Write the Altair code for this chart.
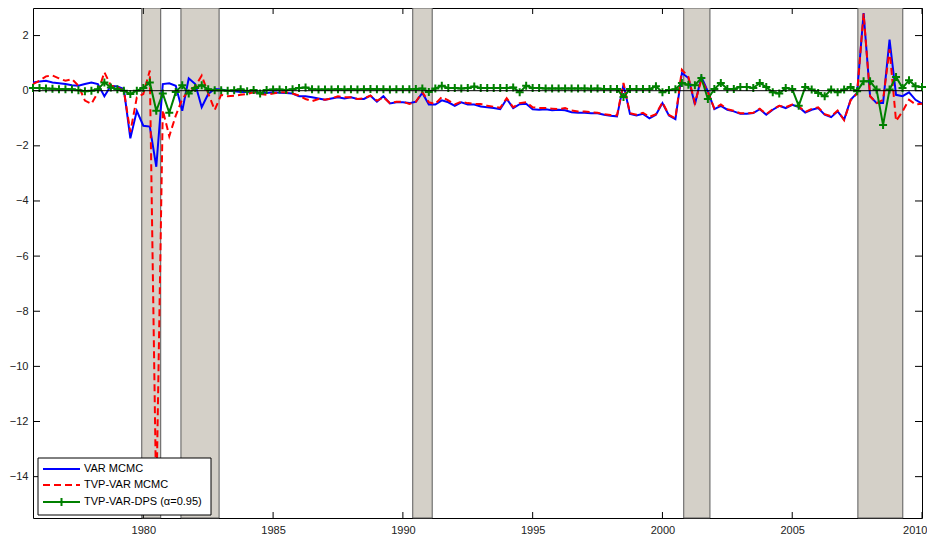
import altair as alt
import pandas as pd

FONT = "Arial, Liberation Sans, sans-serif"

# quarterly observations, first one at 1975.75
START = 1975.75
STEP = 0.25

var_mcmc = [
    0.30, 0.33, 0.36, 0.30, 0.27, 0.24, 0.20, 0.18, 0.24, 0.30,
    0.24, -0.20, 0.18, 0.15, 0.06, -1.73, -0.73, -1.27, -1.30, -2.76,
    0.24, 0.27, 0.18, -0.73, 0.45, 0.24, -0.60, -0.12, 0.06, 0.04,
    0.00, -0.02, -0.05, -0.05, -0.06, -0.07, -0.08, -0.06, -0.07, -0.08,
    -0.10, -0.20, -0.20, -0.24, -0.28, -0.33, -0.28, -0.24, -0.28, -0.24,
    -0.30, -0.30, -0.18, -0.40, -0.20, -0.46, -0.42, -0.42, -0.45, -0.40,
    -0.08, -0.50, -0.50, -0.35, -0.42, -0.55, -0.42, -0.50, -0.50, -0.57,
    -0.60, -0.63, -0.67, -0.30, -0.63, -0.49, -0.47, -0.67, -0.69, -0.67,
    -0.71, -0.69, -0.71, -0.78, -0.80, -0.80, -0.82, -0.82, -0.87, -0.91,
    -0.93, 0.22, -0.84, -0.90, -0.84, -1.00, -0.87, -0.45, -0.90, -1.03,
    0.64, 0.46, -0.50, 0.50, -0.02, -0.67, -0.55, -0.69, -0.75, -0.84,
    -0.84, -0.81, -0.67, -0.87, -0.69, -0.55, -0.63, -0.51, -0.59, -0.79,
    -0.69, -0.63, -0.87, -0.96, -0.75, -1.05, -0.33, -0.08, 2.82, -0.20,
    -0.45, -0.45, 1.85, -0.15, -0.20, -0.06, -0.33, -0.47,
]

tvp_var_mcmc = [
    0.24, 0.36, 0.52, 0.55, 0.45, 0.36, 0.42, 0.18, -0.36, -0.48,
    -0.06, 0.67, 0.18, 0.12, 0.00, -1.50, -0.24, -0.12, 0.73, -15.0,
    -0.70, -1.65, -0.90, -0.30, 0.00, 0.15, 0.55, -0.10, -0.70, -0.15,
    -0.20, -0.18, -0.15, -0.12, -0.06, -0.12, -0.15, -0.10, -0.06, -0.06,
    -0.10, -0.18, -0.30, -0.38, -0.30, -0.33, -0.28, -0.20, -0.24, -0.24,
    -0.30, -0.28, -0.18, -0.36, -0.24, -0.45, -0.40, -0.40, -0.48, -0.40,
    -0.05, -0.42, -0.48, -0.23, -0.35, -0.50, -0.40, -0.45, -0.48, -0.48,
    -0.55, -0.58, -0.62, -0.27, -0.60, -0.45, -0.42, -0.60, -0.63, -0.63,
    -0.65, -0.67, -0.63, -0.72, -0.75, -0.75, -0.78, -0.80, -0.85, -0.88,
    -0.90, 0.28, -0.82, -0.87, -0.80, -0.95, -0.85, -0.42, -0.88, -1.00,
    0.76, 0.50, -0.45, 0.40, -0.05, -0.65, -0.50, -0.67, -0.73, -0.82,
    -0.82, -0.80, -0.65, -0.85, -0.67, -0.55, -0.60, -0.50, -0.57, -0.77,
    -0.66, -0.60, -0.85, -0.93, -0.72, -1.07, -0.35, -0.10, 2.80, -0.20,
    -0.45, -0.33, 1.50, -1.10, -0.75, -0.33, -0.50, -0.47,
]

tvp_var_dps = [
    0.10, 0.10, 0.08, 0.07, 0.05, 0.05, 0.05, 0.02, -0.02, 0.00,
    0.05, 0.30, 0.12, 0.05, 0.00, -0.12, 0.00, 0.10, 0.30, -0.73,
    -0.10, -0.80, -0.05, 0.20, -0.10, 0.10, 0.20, 0.05, 0.02, 0.02,
    0.00, 0.02, 0.05, -0.02, 0.03, -0.10, 0.03, 0.04, 0.04, 0.03,
    0.05, 0.10, 0.12, 0.05, 0.04, 0.04, 0.04, 0.05, 0.04, 0.05,
    0.04, 0.05, 0.06, 0.05, 0.05, 0.04, 0.05, 0.05, 0.05, 0.06,
    0.08, -0.05, 0.08, 0.18, 0.10, 0.10, 0.08, 0.10, 0.15, 0.10,
    0.10, 0.10, 0.10, 0.10, 0.12, -0.06, 0.18, 0.10, 0.10, 0.08,
    0.08, 0.08, 0.08, 0.08, 0.08, 0.08, 0.07, 0.08, 0.06, 0.06,
    0.06, -0.23, 0.06, 0.06, 0.06, 0.06, 0.16, -0.06, 0.03, 0.05,
    0.28, 0.22, 0.20, 0.46, -0.30, 0.06, 0.28, 0.06, 0.06, 0.13,
    0.13, 0.10, 0.28, 0.13, -0.06, -0.10, 0.10, 0.06, -0.55, 0.13,
    0.04, -0.08, -0.20, 0.04, -0.06, 0.04, 0.13, -0.02, 0.34, 0.34,
    0.04, -1.24, 0.04, 0.50, 0.10, 0.38, 0.16, 0.13,
]

series_names = ["VAR MCMC", "TVP-VAR MCMC", "TVP-VAR-DPS (\u03b1=0.95)"]

rec_start = [1979.94, 1981.45, 1990.38, 2000.82, 2007.53]
rec_end = [1980.67, 1982.92, 1991.13, 2001.83, 2009.26]

x_ticks = [1980, 1985, 1990, 1995, 2000, 2005, 2010]
y_ticks = [-14, -12, -10, -8, -6, -4, -2, 0, 2]

W, H = 889, 510


def frame(vals):
    return pd.DataFrame({"t": [START + STEP * i for i in range(len(vals))], "v": vals})


df_var = frame(var_mcmc)
df_tvp = frame(tvp_var_mcmc)
df_dps = frame(tvp_var_dps)
df_rec = pd.DataFrame({"s": rec_start, "e": rec_end})

xs = alt.Scale(domain=[1975.75, 2010], nice=False, zero=False)
ys = alt.Scale(domain=[-15.5, 3], nice=False, zero=False)
xax = alt.Axis(values=x_ticks, format="d", ticks=False, domain=False, grid=False,
               labelFontSize=11, labelPadding=6, labelColor="#222", labelFont=FONT,
               labelFlush=True, labelFlushOffset=5, labelOverlap=False, title=None)
yax = alt.Axis(values=y_ticks, format="d", ticks=False, domain=False, grid=False,
               labelFontSize=11, labelPadding=5, labelColor="#222", labelFont=FONT,
               labelFlush=False, labelOverlap=False, title=None)

X = alt.X("t:Q", scale=xs, axis=xax)
Y = alt.Y("v:Q", scale=ys, axis=yax)

bands = alt.Chart(df_rec).mark_rect(fill="#d4d0c8", stroke="#5a5a5a", strokeWidth=1).encode(
    x=alt.X("s:Q", scale=xs, axis=xax), x2="e:Q"
)

blue = alt.Chart(df_var).mark_line(color="#0000ff", strokeWidth=2).encode(x=X, y=Y)
red = alt.Chart(df_tvp).mark_line(color="#ff0000", strokeWidth=2, strokeDash=[7, 4]).encode(x=X, y=Y)
green = alt.Chart(df_dps).mark_line(color="#008000", strokeWidth=2).encode(x=X, y=Y)
PLUS = "M-1,0H1M0,-1V1"
green_pts = alt.Chart(df_dps).mark_point(shape=PLUS, size=64, strokeWidth=2, color="#008000",
                                         filled=False, opacity=1).encode(x=X, y=Y)

zero = alt.Chart(pd.DataFrame({"v": [0]})).mark_rule(color="black", strokeWidth=1).encode(y=Y)

xt = pd.DataFrame({"t": x_ticks})
yt = pd.DataFrame({"v": y_ticks})
tick_b = alt.Chart(xt).mark_rule(color="black").encode(x=X, y=alt.value(H), y2=alt.value(H - 6))
tick_t = alt.Chart(xt).mark_rule(color="black").encode(x=X, y=alt.value(0), y2=alt.value(6))
tick_l = alt.Chart(yt).mark_rule(color="black").encode(y=Y, x=alt.value(0), x2=alt.value(7))
tick_r = alt.Chart(yt).mark_rule(color="black").encode(y=Y, x=alt.value(W), x2=alt.value(W - 7))

one = pd.DataFrame({"label": series_names})
leg_box = alt.Chart(one.head(1)).mark_rect(fill="white", stroke="black", strokeWidth=1).encode(
    x=alt.value(5), x2=alt.value(178), y=alt.value(450), y2=alt.value(507)
)
rows = [461, 477, 494]
leg_layers = [leg_box]
styles = [
    dict(color="#0000ff", strokeWidth=2),
    dict(color="#ff0000", strokeWidth=2, strokeDash=[7, 4]),
    dict(color="#008000", strokeWidth=2),
]
for k, name in enumerate(series_names):
    d = one.iloc[[k]]
    leg_layers.append(alt.Chart(d).mark_rule(**styles[k]).encode(
        x=alt.value(10), x2=alt.value(47), y=alt.value(rows[k])))
    leg_layers.append(alt.Chart(d).mark_text(align="left", baseline="middle", fontSize=11,
                                             font=FONT, color="black").encode(
        x=alt.value(51), y=alt.value(rows[k]), text="label:N"))
leg_layers.append(alt.Chart(one.iloc[[2]]).mark_point(shape=PLUS, size=64, strokeWidth=2,
                                                      color="#008000", filled=False, opacity=1).encode(
    x=alt.value(28.5), y=alt.value(rows[2])))

chart = alt.layer(
    bands, blue, red, green, green_pts, zero, tick_b, tick_t, tick_l, tick_r, *leg_layers
).properties(
    width=W, height=H,
    padding={"left": 25, "top": 0, "right": 5, "bottom": 20},
    autosize=alt.AutoSizeParams(type="none"),
).configure_view(stroke="black", strokeWidth=1)

chart.save("out.html", embed_options={"renderer": "svg", "actions": False})
